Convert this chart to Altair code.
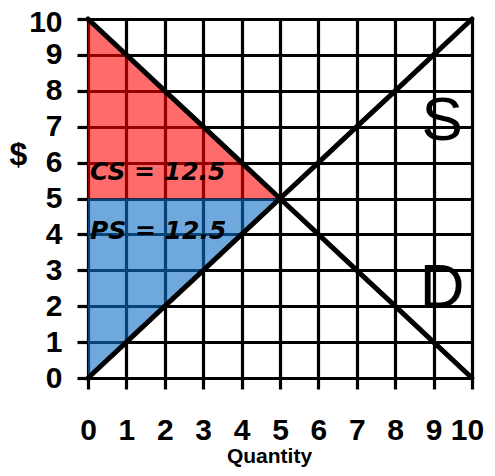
import altair as alt
import pandas as pd

# ---- data ----
quantity = [0, 1, 2, 3, 4, 5, 6, 7, 8, 9, 10]
demand_price = [10, 9, 8, 7, 6, 5, 4, 3, 2, 1, 0]
supply_price = [0, 1, 2, 3, 4, 5, 6, 7, 8, 9, 10]
eq_quantity = 5
eq_price = 5
cs_value = 12.5
ps_value = 12.5

lines_df = pd.DataFrame({
    "q": quantity * 2,
    "p": demand_price + supply_price,
    "curve": ["D"] * len(quantity) + ["S"] * len(quantity),
})

cs_df = pd.DataFrame({"q": [0, eq_quantity], "top": [demand_price[0], eq_price], "bottom": [eq_price, eq_price]})
ps_df = pd.DataFrame({"q": [0, eq_quantity], "top": [eq_price, eq_price], "bottom": [supply_price[0], eq_price]})

curve_labels = pd.DataFrame({"q": [9.22, 9.22], "p": [7.15, 2.5], "label": ["S", "D"]})
surplus_labels = pd.DataFrame({
    "q": [0.05, 0.05],
    "p": [5.75, 4.1],
    "label": [f"CS = {cs_value}", f"PS = {ps_value}"],
})

FONT = "Liberation Sans"

xscale = alt.Scale(domain=[0, 10], nice=False, zero=False)
yscale = alt.Scale(domain=[0, 10], nice=False, zero=False)

xaxis = alt.Axis(
    values=quantity, grid=True, gridColor="black", gridWidth=3.2, gridOpacity=1,
    tickSize=11, tickWidth=3.2, tickColor="black", domain=False,
    labelFont=FONT, labelFontSize=30, labelFontWeight="bold", labelColor="black",
    labelPadding=26, labelFlush=False, labelOverlap=False,
    labelOffset={"condition": {"test": "datum.value == 10", "value": -5}, "value": 0},
    title="Quantity", titleFont=FONT, titleFontSize=21, titleFontWeight="bold",
    titleColor="black", titleX=181, titleY=78, titleBaseline="middle",
    titleAlign="center",
)
yaxis = alt.Axis(
    values=quantity, grid=True, gridColor="black", gridWidth=3.2, gridOpacity=1,
    tickSize=11, tickWidth=3.2, tickColor="black", domain=False,
    labelFont=FONT, labelFontSize=30, labelFontWeight="bold", labelColor="black",
    labelPadding=15, labelFlush=False, labelOverlap=False,
    labelOffset={"condition": {"test": "datum.value == 10", "value": 3}, "value": 0},
    title="$", titleFont=FONT, titleFontSize=32, titleFontWeight="bold", titleColor="black",
    titleAngle=0, titleX=-70, titleY=135, titleAlign="center", titleBaseline="middle",
)


def X(field):
    return alt.X(field, scale=xscale, axis=xaxis)


def Y(field):
    return alt.Y(field, scale=yscale, axis=yaxis)


cs = alt.Chart(cs_df).mark_area(color="#ff0000", opacity=0.58).encode(
    x=X("q:Q"), y=Y("top:Q"), y2="bottom:Q",
)
ps = alt.Chart(ps_df).mark_area(color="#0f6ec5", opacity=0.6).encode(
    x=X("q:Q"), y=Y("top:Q"), y2="bottom:Q",
)
lines = alt.Chart(lines_df).mark_line(color="black", strokeWidth=5, strokeCap="round").encode(
    x=X("q:Q"), y=Y("p:Q"), detail="curve:N",
)
curve_text = alt.Chart(curve_labels).mark_text(
    font=FONT, fontSize=62, color="black", align="center", baseline="middle"
).encode(
    x=X("q:Q"), y=Y("p:Q"), text="label:N"
)
surplus_text = alt.Chart(surplus_labels).mark_text(
    font="DejaVu Sans", fontSize=25, fontWeight="bold", fontStyle="italic", color="black",
    align="left", baseline="middle"
).encode(
    x=X("q:Q"), y=Y("p:Q"), text="label:N"
)

chart = alt.layer(cs, ps, lines, curve_text, surplus_text).properties(
    width=384, height=359,
    autosize=alt.AutoSizeParams(type="none"),
    padding={"left": 80, "top": 11, "right": 15, "bottom": 90},
).configure_view(stroke=None).configure(background="white")

chart.save("out.html", embed_options={"renderer": "svg", "actions": False})
